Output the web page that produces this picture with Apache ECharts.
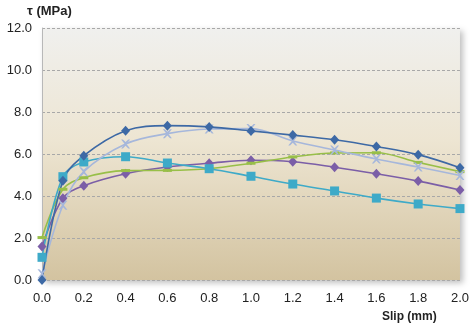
<!DOCTYPE html>
<html>
<head>
<meta charset="utf-8">
<script src="https://cdn.jsdelivr.net/npm/echarts@6/dist/echarts.min.js"></script>
<style>
  html, body { margin: 0; padding: 0; background: #ffffff; }
  #chart { width: 472px; height: 331px; }
</style>
</head>
<body>
<div id="chart"></div>
<script>
// Bond stress–slip curves
const slip = [0, 0.1, 0.2, 0.4, 0.6, 0.8, 1.0, 1.2, 1.4, 1.6, 1.8, 2.0];
const seriesA = [0.0, 4.73, 5.92, 7.11, 7.35, 7.29, 7.10, 6.90, 6.68, 6.36, 5.97, 5.35];
const seriesB = [0.3, 3.56, 5.16, 6.48, 6.97, 7.19, 7.21, 6.62, 6.19, 5.76, 5.38, 4.98];
const seriesC = [1.08, 4.92, 5.62, 5.87, 5.57, 5.30, 4.94, 4.57, 4.24, 3.90, 3.62, 3.40];
const seriesD = [2.02, 4.32, 4.87, 5.21, 5.22, 5.30, 5.56, 5.86, 6.05, 6.06, 5.60, 5.16];
const seriesE = [1.59, 3.89, 4.49, 5.06, 5.38, 5.56, 5.70, 5.63, 5.37, 5.06, 4.71, 4.29];
const yTicks = [0, 2, 4, 6, 8, 10, 12];
const xTicks = [0, 0.2, 0.4, 0.6, 0.8, 1.0, 1.2, 1.4, 1.6, 1.8, 2.0];

const pairs = (ys) => slip.map((x, i) => [x, ys[i]]);
const crossPath = 'path://M0,0 L2,0 L5,3 L8,0 L10,0 L6,5 L10,10 L8,10 L5,7 L2,10 L0,10 L4,5 Z';

function line(name, data, color, symbol, size) {
  return {
    name, type: 'line', data: pairs(data), smooth: 0.35,
    symbol, symbolSize: size,
    showSymbol: true,
    lineStyle: { color, width: 1.6 },
    itemStyle: { color },
    z: 3
  };
}

const chart = echarts.init(document.getElementById('chart'), null, { renderer: 'canvas' });
chart.setOption({
  animation: false,
  textStyle: { fontFamily: 'Liberation Sans, Arial, sans-serif' },
  grid: {
    left: 42, right: 10, top: 28, bottom: 51,
    show: true,
    borderWidth: 0,
    backgroundColor: new echarts.graphic.LinearGradient(0, 0, 0, 1, [
      { offset: 0, color: '#f0f0ee' },
      { offset: 0.45, color: '#ede5d2' },
      { offset: 1, color: '#d3c3a0' }
    ]),
    shadowColor: 'rgba(0,0,0,0.25)',
    shadowBlur: 6,
    shadowOffsetX: 3,
    shadowOffsetY: 3
  },
  graphic: [
    { type: 'text', left: 27, top: 5,
      style: { text: 'τ (MPa)', fontSize: 13, fontWeight: 'bold', fill: '#222',
               fontFamily: 'Liberation Sans, Arial, sans-serif' } },
    { type: 'text', left: 382, top: 311,
      style: { text: 'Slip (mm)', fontSize: 12, fontWeight: 'bold', fill: '#222',
               fontFamily: 'Liberation Sans, Arial, sans-serif' } }
  ],
  xAxis: {
    type: 'value', min: 0, max: 2.0, interval: 0.2,
    axisLine: { show: false },
    axisTick: { show: false },
    splitLine: { show: false },
    axisLabel: {
      color: '#222', fontSize: 13, margin: 12,
      formatter: (v) => xTicks.some(t => Math.abs(t - v) < 1e-6) ? v.toFixed(1) : ''
    }
  },
  yAxis: {
    type: 'value', min: 0, max: 12, interval: 2,
    axisLine: { show: true, lineStyle: { color: '#b8b8b8', width: 1 } },
    axisTick: { show: false },
    splitLine: { show: true, lineStyle: { color: '#a8a8a8', type: [3, 2], width: 1 } },
    axisLabel: {
      color: '#222', fontSize: 13, margin: 10,
      formatter: (v) => yTicks.includes(v) ? v.toFixed(1) : ''
    }
  },
  series: [
    line('E', seriesE, '#7b5ea7', 'diamond', [9, 10]),
    line('D', seriesD, '#98bf48', 'rect', [9, 3]),
    line('C', seriesC, '#3eaac8', 'rect', 9),
    line('B', seriesB, '#a6b7db', crossPath, 9),
    line('A', seriesA, '#3d69a5', 'diamond', [9, 10])
  ]
});
</script>
</body>
</html>
